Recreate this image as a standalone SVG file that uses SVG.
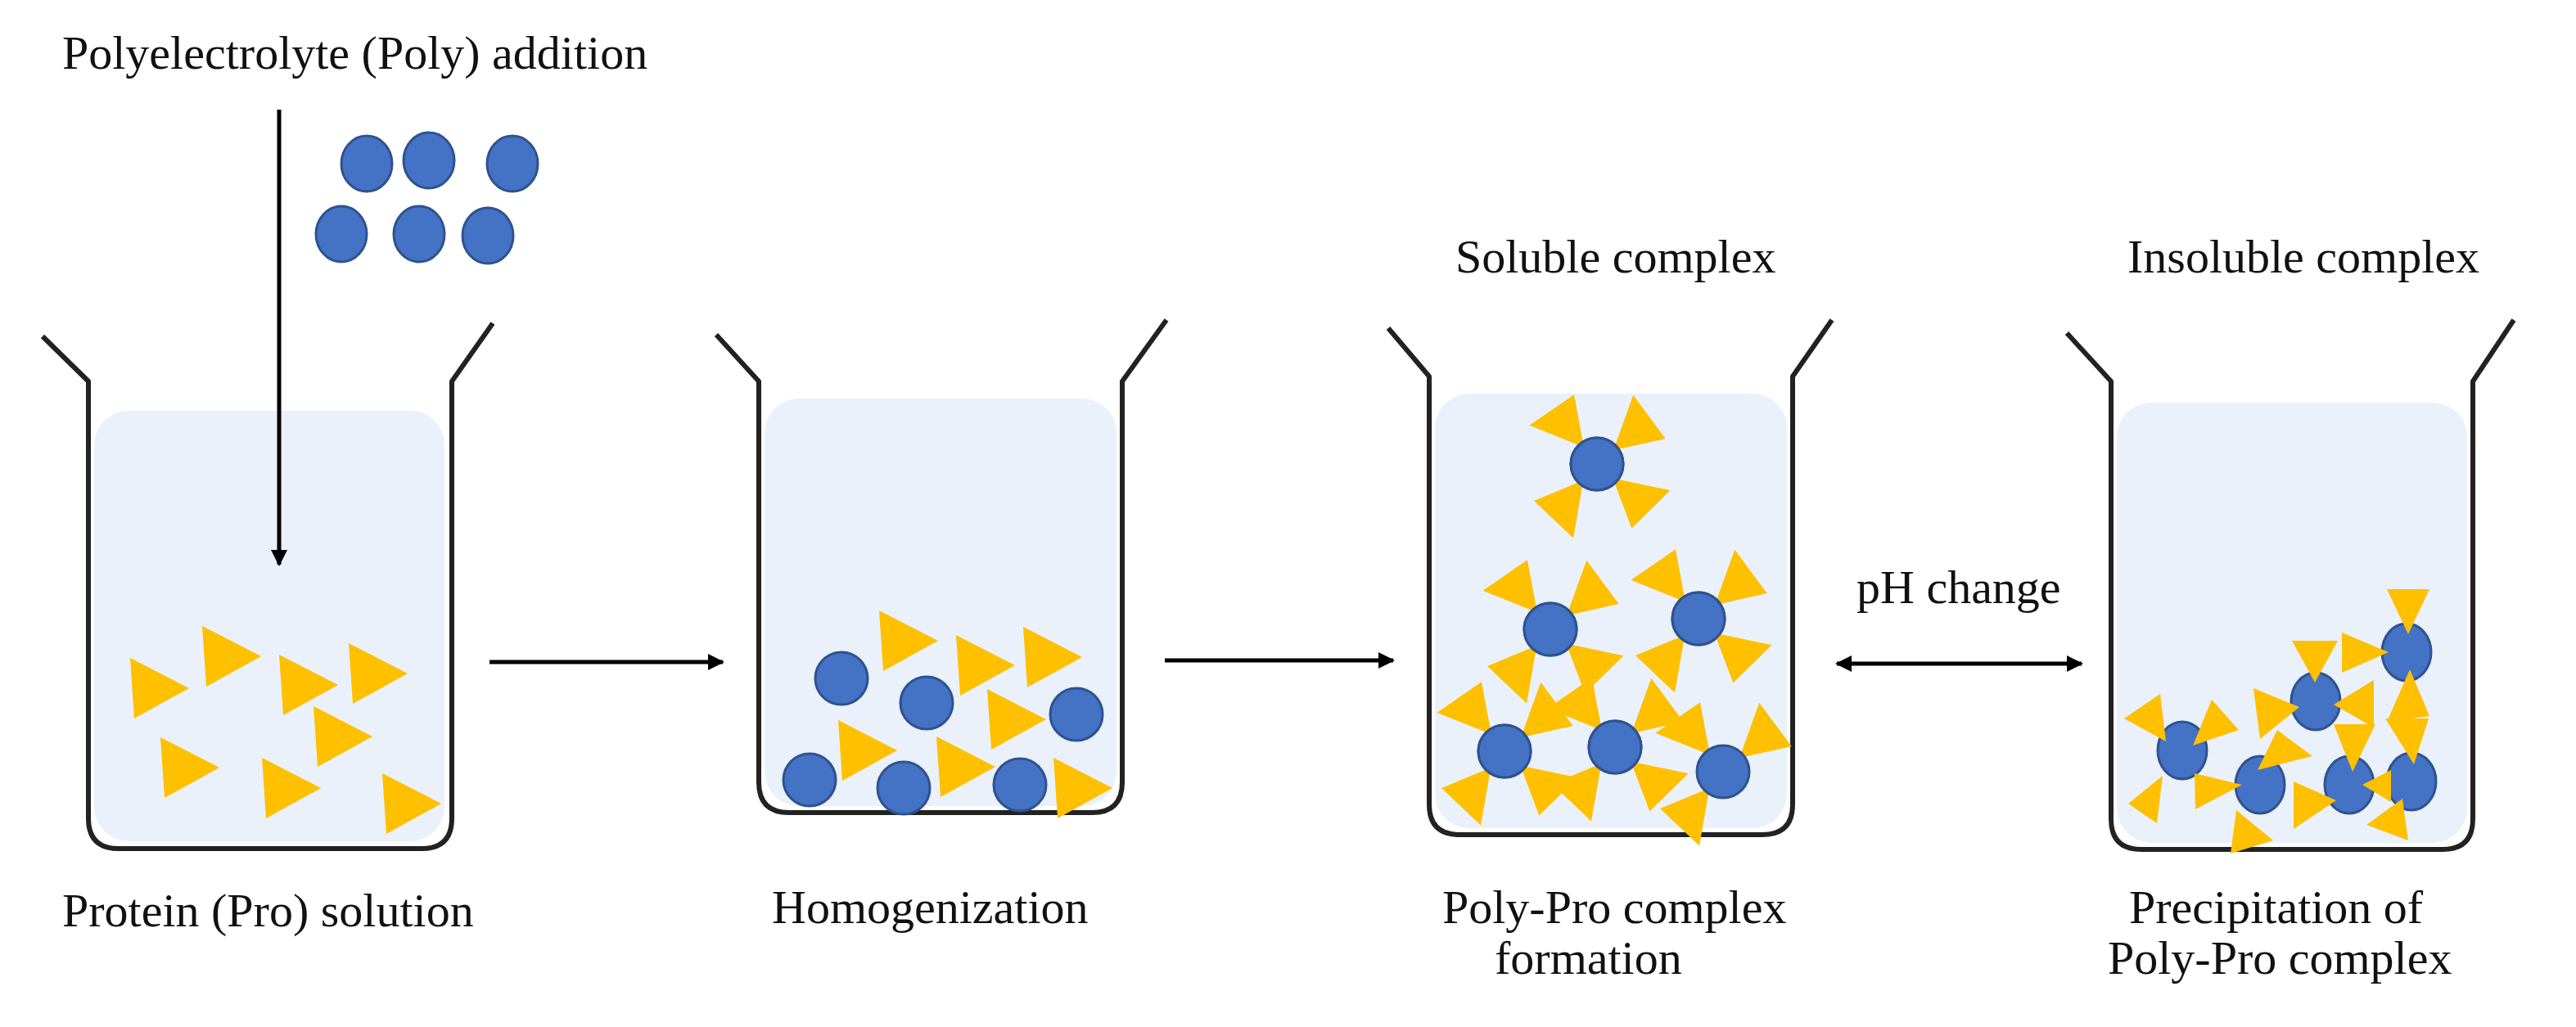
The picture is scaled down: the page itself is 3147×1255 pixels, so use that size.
<svg xmlns="http://www.w3.org/2000/svg" xmlns:xlink="http://www.w3.org/1999/xlink" width="3147" height="1255" viewBox="0 0 3147 1255">
<style>
.t{font-family:"Liberation Serif","Times New Roman",serif;font-size:58px;fill:#111}
.bk{fill:none;stroke:#222;stroke-width:6;stroke-linejoin:round}
.lq{fill:#EAF1FA}
.bl{fill:#4472C4;stroke:#2F528F;stroke-width:3}
.y{fill:#FFC000}
.ar{stroke:#000;stroke-width:5;fill:none}
</style>
<defs>
<marker id="ah" viewBox="0 0 10 10" refX="9" refY="5" markerWidth="4" markerHeight="4" orient="auto-start-reverse"><path d="M0,0 L10,5 L0,10 Z" fill="#000"/></marker>
<path id="tr" class="y" d="M0,-37 L5,37 L72,0 Z"/>
<polygon id="st" class="y" points="26,0 88,-36 84,30"/>
<g id="cx3">
<use xlink:href="#st" transform="rotate(-128)"/>
<use xlink:href="#st" transform="rotate(-40)"/>
<use xlink:href="#st" transform="rotate(130)"/>
<circle class="bl" r="32"/>
</g>
<g id="cx">
<use xlink:href="#cx3"/>
<use xlink:href="#st" transform="rotate(42)"/>
<circle class="bl" r="32"/>
</g>
</defs>

<g id="beaker1">
<rect class="lq" x="115" y="502" width="428" height="526" rx="42"/>
<path class="bk" d="M52,411 L108,466 L108,1000 Q108,1037 145,1037 L515,1037 Q552,1037 552,1000 L552,466 L602,395"/>
<use xlink:href="#tr" x="159" y="841"/>
<use xlink:href="#tr" x="247" y="802"/>
<use xlink:href="#tr" x="341" y="837"/>
<use xlink:href="#tr" x="426" y="823"/>
<use xlink:href="#tr" x="383" y="900"/>
<use xlink:href="#tr" x="196" y="938"/>
<use xlink:href="#tr" x="320" y="963"/>
<use xlink:href="#tr" x="467" y="982"/>
<text class="t" x="76" y="1132">Protein (Pro) solution</text>
</g>

<g id="poly">
<ellipse class="bl" cx="448" cy="200" rx="31" ry="34"/>
<ellipse class="bl" cx="524" cy="196" rx="31" ry="34"/>
<ellipse class="bl" cx="626" cy="200" rx="31" ry="34"/>
<ellipse class="bl" cx="417" cy="286" rx="31" ry="34"/>
<ellipse class="bl" cx="512" cy="286" rx="31" ry="34"/>
<ellipse class="bl" cx="596" cy="288" rx="31" ry="34"/>
<text class="t" x="76" y="84">Polyelectrolyte (Poly) addition</text>
</g>

<g id="beaker2">
<rect class="lq" x="934" y="487" width="430" height="498" rx="42"/>
<path class="bk" d="M875,409 L927,466 L927,956 Q927,993 964,993 L1334,993 Q1371,993 1371,956 L1371,466 L1425,391"/>
<use xlink:href="#tr" x="1074" y="783"/>
<use xlink:href="#tr" x="1168" y="813"/>
<use xlink:href="#tr" x="1250" y="803"/>
<use xlink:href="#tr" x="1024" y="917"/>
<use xlink:href="#tr" x="1206" y="879"/>
<use xlink:href="#tr" x="1144" y="937"/>
<use xlink:href="#tr" x="1287" y="963"/>
<circle class="bl" cx="1028" cy="829" r="32"/>
<circle class="bl" cx="1132" cy="859" r="32"/>
<circle class="bl" cx="1315" cy="873" r="32"/>
<circle class="bl" cx="989" cy="953" r="32"/>
<circle class="bl" cx="1104" cy="963" r="32"/>
<circle class="bl" cx="1246" cy="959" r="32"/>
<text class="t" x="943" y="1128">Homogenization</text>
</g>

<g id="beaker3">
<rect class="lq" x="1753" y="481" width="430" height="531" rx="42"/>
<path class="bk" d="M1696,401 L1746,460 L1746,983 Q1746,1020 1783,1020 L2153,1020 Q2190,1020 2190,983 L2190,460 L2238,391"/>
<use xlink:href="#cx" x="1951" y="567"/>
<use xlink:href="#cx" x="1894" y="769"/>
<use xlink:href="#cx" x="2075" y="756"/>
<use xlink:href="#cx" x="1838" y="918"/>
<use xlink:href="#cx" x="1973" y="913"/>
<use xlink:href="#cx3" x="2105" y="943"/>
<text class="t" x="1778" y="333">Soluble complex</text>
<text class="t" x="1762" y="1128">Poly-Pro complex</text>
<text class="t" x="1826" y="1190">formation</text>
</g>

<g id="beaker4">
<rect class="lq" x="2586" y="492" width="428" height="538" rx="42"/>
<path class="bk" d="M2525,407 L2579,466 L2579,1001 Q2579,1038 2616,1038 L2984,1038 Q3021,1038 3021,1001 L3021,466 L3071,391"/>
<ellipse class="bl" cx="2940" cy="797" rx="30" ry="35"/>
<ellipse class="bl" cx="2829" cy="857" rx="30" ry="35"/>
<ellipse class="bl" cx="2666" cy="917" rx="30" ry="35"/>
<ellipse class="bl" cx="2761" cy="959" rx="30" ry="35"/>
<ellipse class="bl" cx="2870" cy="959" rx="30" ry="35"/>
<ellipse class="bl" cx="2946" cy="955" rx="30" ry="35"/>
<polygon class="y" points="2916,720 2968,720 2942,775"/>
<polygon class="y" points="2800,783 2856,783 2828,834"/>
<polygon class="y" points="2861,773 2861,822 2918,797"/>
<polygon class="y" points="2753,841 2761,903 2809,864"/>
<polygon class="y" points="2900,831 2900,889 2851,861"/>
<polygon class="y" points="2944,818 2916,882 2968,875"/>
<polygon class="y" points="2949,934 2914,878 2967,878"/>
<polygon class="y" points="2851,885 2902,885 2874,943"/>
<polygon class="y" points="2921,941 2921,980 2886,959"/>
<polygon class="y" points="2891,1008 2935,976 2942,1027"/>
<polygon class="y" points="2802,955 2802,1013 2854,978"/>
<polygon class="y" points="2758,941 2782,892 2825,924"/>
<polygon class="y" points="2725,1043 2732,990 2777,1027"/>
<polygon class="y" points="2681,945 2682,989 2739,959"/>
<polygon class="y" points="2595,878 2639,848 2646,906"/>
<polygon class="y" points="2679,911 2702,855 2735,892"/>
<polygon class="y" points="2600,982 2642,948 2635,1006"/>
<text class="t" x="2599" y="333">Insoluble complex</text>
<text class="t" x="2601" y="1128">Precipitation of</text>
<text class="t" x="2575" y="1190">Poly-Pro complex</text>
</g>

<g id="connectors">
<line class="ar" x1="341" y1="134" x2="341" y2="690" marker-end="url(#ah)"/>
<line class="ar" x1="598" y1="809" x2="883" y2="809" marker-end="url(#ah)"/>
<line class="ar" x1="1423" y1="807" x2="1702" y2="807" marker-end="url(#ah)"/>
<line class="ar" x1="2244" y1="811" x2="2543" y2="811" marker-start="url(#ah)" marker-end="url(#ah)"/>
<text class="t" x="2268" y="737">pH change</text>
</g>
</svg>
